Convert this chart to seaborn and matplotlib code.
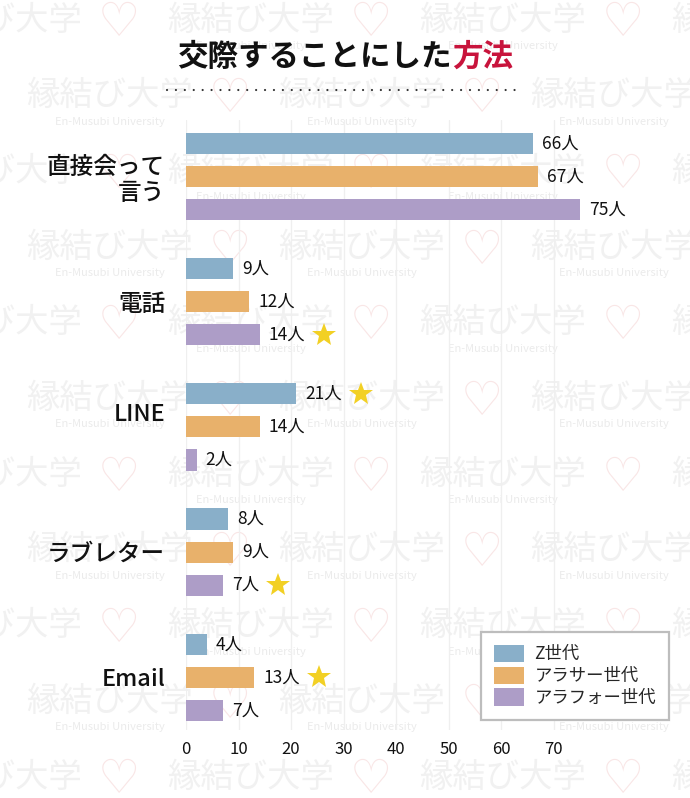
import numpy as np
import pandas as pd
import matplotlib
matplotlib.use("Agg")
import matplotlib.pyplot as plt
from matplotlib.lines import Line2D
from matplotlib.transforms import ScaledTranslation
import seaborn as sns

# ---- data ----
categories = ["直接会って\n言う", "電話", "LINE", "ラブレター", "Email"]
generations = ["Z世代", "アラサー世代", "アラフォー世代"]
z_gen = [66, 9, 21, 8, 4]
arasa_gen = [67, 12, 14, 9, 13]
arafo_gen = [75, 14, 2, 7, 7]
starred = [("電話", "アラフォー世代"), ("LINE", "Z世代"),
           ("ラブレター", "アラフォー世代"), ("Email", "アラサー世代")]
x_ticks = [0, 10, 20, 30, 40, 50, 60, 70]
title_main = "交際することにした"
title_accent = "方法"
unit = "人"
wm_text = "縁結び大学"
wm_sub = "En-Musubi University"

colors = ["#89afc9", "#e8b16b", "#ad9dc7"]

rows = []
for g, vals in zip(generations, [z_gen, arasa_gen, arafo_gen]):
    for c, v in zip(categories, vals):
        rows.append({"method": c, "generation": g, "count": v})
df = pd.DataFrame(rows)

sns.set_theme(style="white")
plt.rcParams["font.family"] = ["Noto Sans CJK JP", "DejaVu Sans"]

W, H = 690, 798
fig = plt.figure(figsize=(W / 100, H / 100), dpi=100, facecolor="white")

def fx(px):
    return px / W

def fy(py):
    return 1 - py / H

# ---- faint background watermark ----
row_y0, row_dy = 20, 75.7
period = 252
for k in range(11):
    yc = row_y0 + k * row_dy
    start0 = 167 if k % 2 == 0 else 26
    for n in range(-1, 3):
        s = start0 + n * period
        if s + 168 > 0 and s < W:
            fig.text(fx(s), fy(yc), wm_text, ha="left", va="center",
                     fontsize=24, color="#f1f1f1", zorder=-10)
        if s + 84 - 60 > -40 and s + 84 < W + 40:
            fig.text(fx(s + 84), fy(yc + 26), wm_sub, ha="center",
                     va="center", fontsize=8, color="#ebebeb", zorder=-10)
        if -20 < s + 204 < W + 20:
            fig.text(fx(s + 204), fy(yc + 4), "♡", ha="center", va="center",
                     fontsize=34, color="#f9e6e6", family="DejaVu Sans",
                     zorder=-10)

# ---- axes ----
ax_left, ax_right = 186, 658.5
ax_top, ax_bot = 120, 730
ax = fig.add_axes([fx(ax_left), fy(ax_bot), fx(ax_right) - fx(ax_left),
                   (ax_bot - ax_top) / H])
ax.patch.set_facecolor("none")

sns.barplot(data=df, y="method", x="count", hue="generation", orient="h",
            order=categories, hue_order=generations, palette=colors,
            width=0.792, gap=0.36, ax=ax, saturation=1, linewidth=0,
            errorbar=None)

ax.set_xlim(0, 90)
ax.set_ylim(4.42, -0.45)
ax.set_xticks(x_ticks)
ax.set_xticklabels([str(t) for t in x_ticks], fontsize=12, color="#111111")
ax.tick_params(axis="x", length=0, pad=8)
ax.tick_params(axis="y", length=0, pad=15)
for lbl in ax.get_yticklabels():
    lbl.set_fontsize(17)
    lbl.set_fontweight("medium")
    lbl.set_color("#111111")
    lbl.set_ha("right")
    lbl.set_multialignment("right")
    if lbl.get_text() == "LINE":
        lbl.set_transform(lbl.get_transform() +
                          ScaledTranslation(0, 15 / 100, fig.dpi_scale_trans))
ax.set_xlabel("")
ax.set_ylabel("")
for sp in ax.spines.values():
    sp.set_visible(False)
ax.grid(axis="x", color="#efefef", linewidth=0.9)
ax.set_axisbelow(True)

# value labels
label_artists = {}
for g, cont in zip(generations, ax.containers):
    anns = ax.bar_label(cont, labels=[f"{int(v)}{unit}" for v in cont.datavalues],
                        padding=6.5, fontsize=12.5, color="#111111")
    for c, a, bar in zip(categories, anns, cont.patches):
        label_artists[(c, g)] = (a, bar)

# legend
leg = ax.legend(loc="lower right", bbox_to_anchor=(fx(669), fy(720)),
                bbox_transform=fig.transFigure, frameon=True, fancybox=False,
                fontsize=12.5, handlelength=1.75, handleheight=1.15,
                labelspacing=0.2, borderpad=0.75, handletextpad=0.6,
                borderaxespad=0, title=None)
leg.get_frame().set_edgecolor("#bdbdbd")
leg.get_frame().set_linewidth(1.6)
leg.get_frame().set_facecolor("white")
leg.get_frame().set_alpha(1)

# stars after highlighted labels
fig.canvas.draw()
renderer = fig.canvas.get_renderer()
inv = ax.transData.inverted()
for key in starred:
    a, bar = label_artists[key]
    bb = a.get_window_extent(renderer)
    yc = bar.get_y() + bar.get_height() / 2
    yd = ax.transData.transform((0, yc))[1]
    xs = inv.transform((bb.x1 + 19, yd))[0]
    ax.plot([xs], [yc], marker="*", markersize=18, color="#f2d024",
            markeredgewidth=0, clip_on=False, zorder=5)

# ---- title ----
split = 452
fig.text(fx(split), fy(57), title_main, ha="right", va="center",
         fontsize=22, fontweight="bold", color="#111111")
fig.text(fx(split), fy(57), title_accent, ha="left", va="center",
         fontsize=22, fontweight="bold", color="#c8143c")
fig.add_artist(Line2D([fx(167), fx(522)], [fy(90), fy(90)],
                      transform=fig.transFigure, color="#333333",
                      linewidth=1.6, linestyle=(0, (0.01, 4.0)),
                      dash_capstyle="round"))

fig.savefig("out.png", dpi=100, facecolor="white")
